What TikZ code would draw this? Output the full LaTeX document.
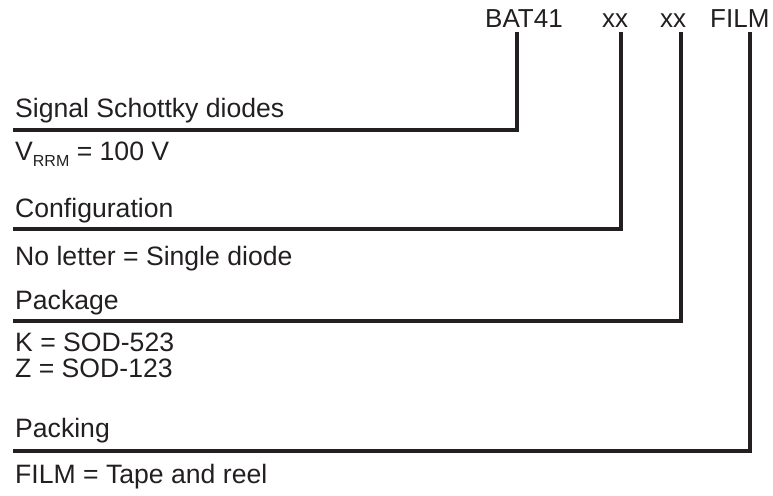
\documentclass[tikz,border=0pt]{standalone}
\usepackage{fontspec}
\setmainfont{Liberation Sans}
\usepackage{xcolor}
\definecolor{ink}{HTML}{231F20}

\begin{document}
\begin{tikzpicture}[x=1pt, y=-1pt, ink,
	every node/.style={font=\fontsize{26.6}{30}\selectfont, text=ink, inner sep=0pt},
	code/.style={anchor=base west, inner sep=4pt, font=\fontsize{26}{30}\selectfont},
	desc/.style={anchor=base west},
	lead/.style={line width=4pt}]
			\useasboundingbox (0,0) rectangle (773,495);

			% Order code on top
			\node[code] (bat) at (481,28) {BAT41};
			\node[code] (cfg) at (598,28) {xx};
			\node[code] (pkg) at (656,28) {xx};
			\node[code] (film) at (706,28) {FILM};

			% Left ends of the leads
			\coordinate (e1) at (13,130);
			\coordinate (e2) at (13,229);
			\coordinate (e3) at (13,321);
			\coordinate (e4) at (13,451);

			% Texts over and under the leads
			\node[desc] (sig) at (15,117) {Signal Schottky diodes};
			\node[desc] (vrrm) at (15,160) {V\raisebox{-6.5pt}{\fontsize{16}{16}\selectfont RRM} = 100 V};
			\node[desc] (conf) at (15,217) {Configuration};
			\node[desc] (single) at (15,265) {No letter = Single diode};
			\node[desc] (pack) at (15,309) {Package};
			\node[desc] (sodk) at (15,351) {K = SOD-523};
			\node[desc] (sodz) at (15,377) {Z = SOD-123};
			\node[desc] (packing) at (15,437) {Packing};
			\node[desc] (tape) at (15,483) {FILM = Tape and reel};

			% Draw leads
			\draw[lead] ([xshift=-7pt]bat.south) |- (e1);
			\draw[lead] ([xshift=6pt]cfg.south) |- (e2);
			\draw[lead] ([xshift=8pt]pkg.south) |- (e3);
			\draw[lead] ([xshift=10pt]film.south) |- (e4);
\end{tikzpicture}
\end{document}
